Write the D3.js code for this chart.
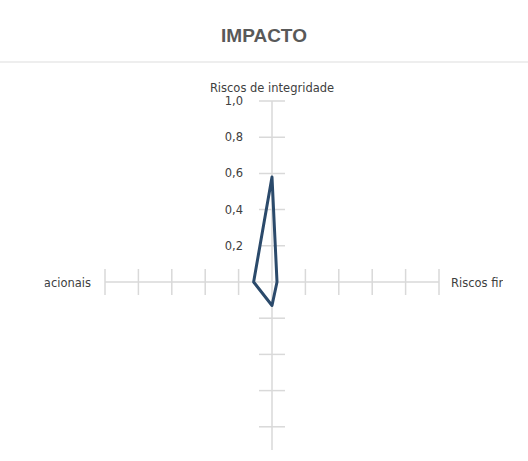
<!DOCTYPE html>
<html><head><meta charset="utf-8">
<script src="https://cdn.jsdelivr.net/npm/d3@7"></script>
<style>body{margin:0;background:#fff}</style>
</head><body>
<svg id="c" width="528" height="461"></svg>
<script>
const axes = ["Riscos de integridade", "Riscos financeiros", "Riscos estratégicos", "Riscos operacionais"];
const values = [0.58, 0.03, 0.13, 0.11];
const tickValues = [0.2, 0.4, 0.6, 0.8, 1.0];
const tickLabels = ["0,2", "0,4", "0,6", "0,8", "1,0"];

const svg = d3.select("#c");
const cx = 272, cy = 282;
const rx = d3.scaleLinear().domain([0, 1]).range([0, 167]);
const ry = d3.scaleLinear().domain([0, 1]).range([0, 181]);
const dirs = [[0, -1], [1, 0], [0, 1], [-1, 0]];
const pt = (i, v) => [cx + dirs[i][0] * rx(v), cy + dirs[i][1] * ry(v)];

svg.append("text").attr("x", 264).attr("y", 42).attr("text-anchor", "middle")
  .attr("font-family", "Liberation Sans, Arial").attr("font-weight", "bold")
  .attr("font-size", 19).attr("fill", "#595959").text("IMPACTO");
svg.append("line").attr("x1", 0).attr("x2", 528).attr("y1", 62).attr("y2", 62)
  .attr("stroke", "#e8e8e8").attr("stroke-width", 1.5);

const defs = svg.append("defs");
defs.append("clipPath").attr("id", "plot").append("rect")
  .attr("x", 44.5).attr("y", 70).attr("width", 458.5).attr("height", 380);

const g = svg.append("g").attr("clip-path", "url(#plot)");
const grid = "#d9d9d9";
axes.forEach((a, i) => {
  const [x2, y2] = pt(i, 1);
  g.append("line").attr("x1", cx).attr("y1", cy).attr("x2", x2).attr("y2", y2)
    .attr("stroke", grid).attr("stroke-width", 1.5);
  tickValues.forEach(t => {
    const [tx, ty] = pt(i, t);
    if (dirs[i][0] === 0) {
      g.append("line").attr("x1", tx - 13).attr("x2", tx + 13).attr("y1", ty).attr("y2", ty)
        .attr("stroke", grid).attr("stroke-width", 1.5);
    } else {
      g.append("line").attr("x1", tx).attr("x2", tx).attr("y1", ty - 13).attr("y2", ty + 13)
        .attr("stroke", grid).attr("stroke-width", 1.5);
    }
  });
});

const font = "DejaVu Sans, Verdana, sans-serif";
tickValues.forEach((t, k) => {
  const [tx, ty] = pt(0, t);
  g.append("text").attr("x", 243).attr("y", ty + 4).attr("text-anchor", "end")
    .attr("font-family", font).attr("font-size", 11.5).attr("fill", "#404040").text(tickLabels[k]);
});

// axis labels
g.append("text").attr("x", cx).attr("y", 92).attr("text-anchor", "middle")
  .attr("font-family", font).attr("font-size", 11.5).attr("fill", "#404040").text(axes[0]);
g.append("text").attr("x", 451).attr("y", 287).attr("text-anchor", "start")
  .attr("font-family", font).attr("font-size", 11.5).attr("fill", "#404040").text(axes[1]);
g.append("text").attr("x", 91).attr("y", 287).attr("text-anchor", "end")
  .attr("font-family", font).attr("font-size", 11.5).attr("fill", "#404040").text(axes[3]);

const line = d3.line().curve(d3.curveLinearClosed);
g.append("path").attr("d", line(values.map((v, i) => pt(i, v))))
  .attr("fill", "none").attr("stroke", "#2b4a6b").attr("stroke-width", 3)
  .attr("stroke-linejoin", "round");
</script>
</body></html>
